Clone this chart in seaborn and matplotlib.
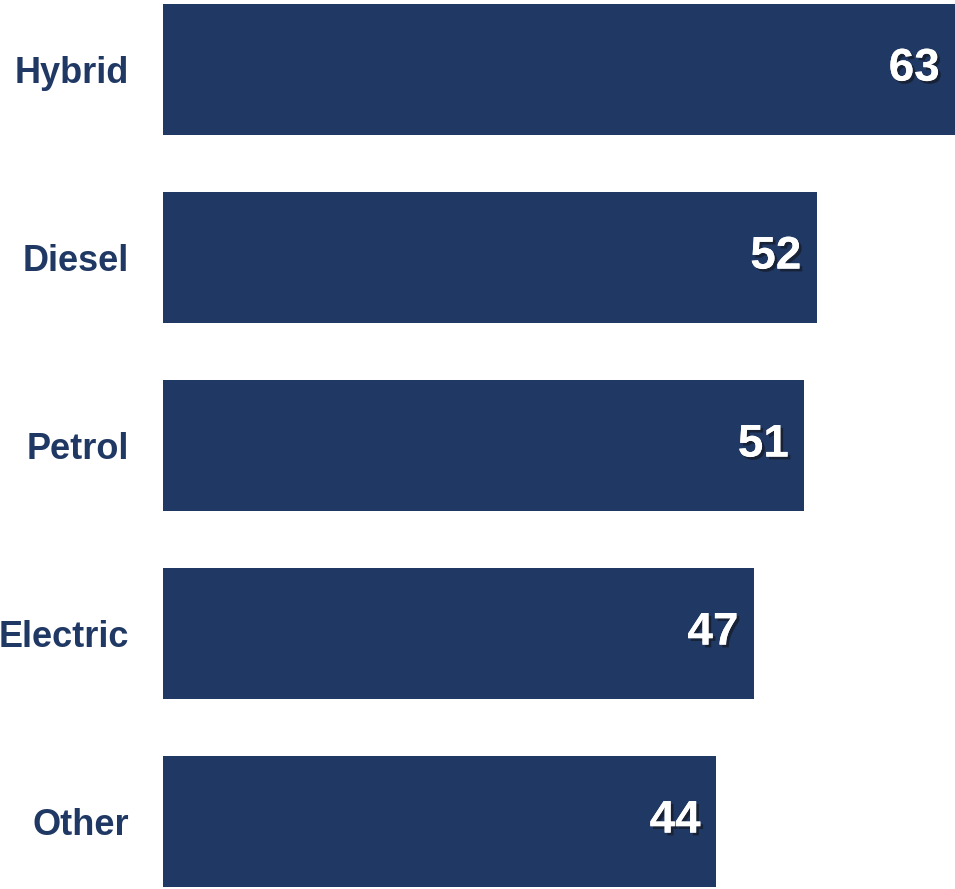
import matplotlib
matplotlib.use("Agg")
import matplotlib.pyplot as plt
import matplotlib.patheffects as pe
import seaborn as sns
import pandas as pd

categories = ["Hybrid", "Diesel", "Petrol", "Electric", "Other"]
values = [63, 52, 51, 47, 44]

sns.set_theme(style="white")
plt.rcParams['font.family'] = ['Liberation Sans', 'DejaVu Sans']

bar_color = "#203864"
df = pd.DataFrame({"category": categories, "value": values})

fig = plt.figure(figsize=(9.55, 8.89), dpi=100)
ax = fig.add_axes([163 / 955, 0, 1 - 163 / 955, 1])
sns.barplot(data=df, x="value", y="category", orient="h", color=bar_color,
            saturation=1, width=0.697, ax=ax, edgecolor="none")

ax.set_xlim(0, 63)
ax.set_ylim(4.359, -0.3697)
for s in ax.spines.values():
    s.set_visible(False)
ax.set_xticks([])
ax.set_xlabel("")
ax.set_ylabel("")
ax.tick_params(axis="y", length=0, pad=24.5)
for lbl in ax.get_yticklabels():
    lbl.set_fontsize(26)
    lbl.set_fontweight("bold")
    lbl.set_color(bar_color)

for i, v in enumerate(values):
    t = ax.annotate(str(v), xy=(v, i), xytext=(-11, -8), textcoords="offset points",
                    ha="right", va="baseline", fontsize=33, fontweight="bold", color="white")
    t.set_path_effects([pe.withSimplePatchShadow(offset=(2, -2), shadow_rgbFace="#111111", alpha=0.55),
                        pe.Normal()])

fig.savefig("out.png", dpi=100)
